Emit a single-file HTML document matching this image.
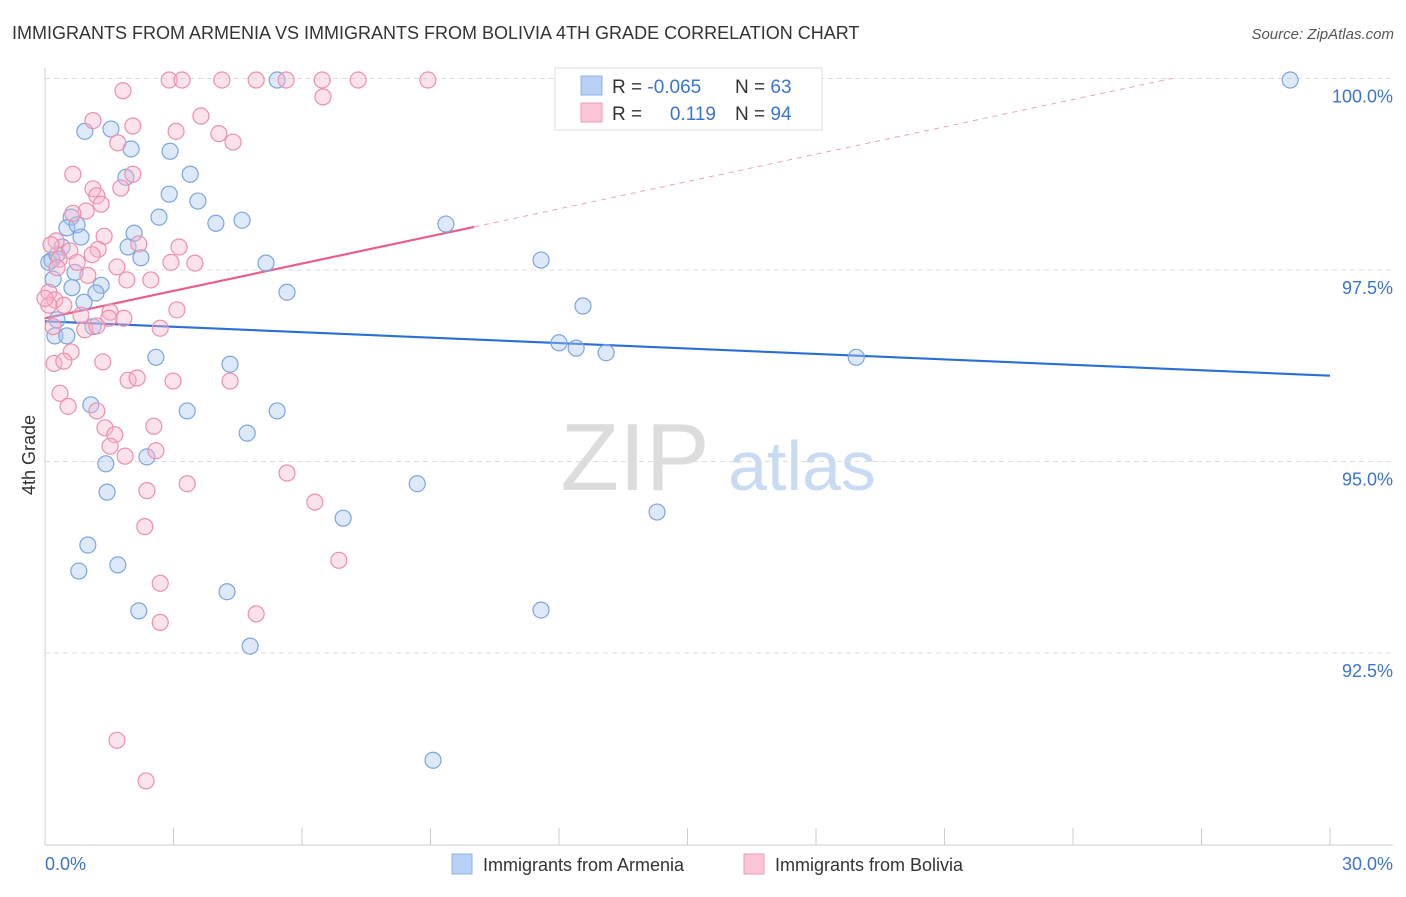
<!DOCTYPE html>
<html><head><meta charset="utf-8"><style>
body{margin:0;background:#fff;font-family:"Liberation Sans",sans-serif;}
svg text{font-family:"Liberation Sans",sans-serif;}
</style></head><body>
<svg id="chart" width="1406" height="892" xmlns="http://www.w3.org/2000/svg">
<text x="12" y="39" font-size="18" fill="#333">IMMIGRANTS FROM ARMENIA VS IMMIGRANTS FROM BOLIVIA 4TH GRADE CORRELATION CHART</text>
<text x="1394" y="39" font-size="15" fill="#555" font-style="italic" text-anchor="end">Source: ZipAtlas.com</text>
<text x="35" y="455" font-size="18" fill="#333" text-anchor="middle" transform="rotate(-90 35 455)">4th Grade</text>
<g>
<text x="635" y="490" font-size="96" fill="#dcdcdc" text-anchor="middle" font-family="Liberation Serif, serif">ZIP</text>
<text x="802" y="490" font-size="70" fill="#c9dbf2" text-anchor="middle">atlas</text>
</g>
<g id="grid"></g><g id="axes"></g><g id="lines"></g><g id="pts"></g>
<g>
<rect x="555" y="68" width="267" height="62" fill="#fff" stroke="#ddd"/>
<rect x="581" y="76" width="21" height="19" fill="#b7d0f3" stroke="#8db4e8"/>
<rect x="581" y="103" width="21" height="19" fill="#fbc5d5" stroke="#f09ab5"/>
<text x="612" y="93" font-size="19" fill="#333">R = <tspan fill="#3a74d0">-0.065</tspan></text>
<text x="735" y="93" font-size="19" fill="#333">N = <tspan fill="#3a74d0">63</tspan></text>
<text x="612" y="120" font-size="19" fill="#333">R = </text>
<text x="716" y="120" font-size="19" fill="#3a74d0" text-anchor="end">0.119</text>
<text x="735" y="120" font-size="19" fill="#333">N = <tspan fill="#3a74d0">94</tspan></text>
</g>
<g>
<rect x="452" y="854" width="20" height="20" fill="#b7d0f3" stroke="#8db4e8"/>
<text x="483" y="871" font-size="18" fill="#333">Immigrants from Armenia</text>
<text x="775" y="871" font-size="18" fill="#333">Immigrants from Bolivia</text>
<rect x="744" y="854" width="20" height="20" fill="#fbc5d5" stroke="#f09ab5"/>
</g>
</svg>
<script>
const blueX=[29.07,5.42,0.93,1.54,2.01,2.92,3.39,1.89,2.90,3.57,0.61,2.66,3.99,4.60,9.36,0.51,0.75,0.40,0.84,2.08,1.94,0.16,2.24,5.16,11.58,0.70,0.19,0.63,1.31,1.19,5.65,0.91,12.56,0.28,0.23,0.51,1.12,12.00,12.40,13.10,18.94,2.59,4.32,1.07,3.32,5.42,4.72,2.38,1.42,8.69,1.45,6.96,14.29,1.00,0.79,1.70,4.25,2.19,11.58,4.79,9.06,0.09,0.28];
const blueY=[99.98,99.98,99.31,99.34,99.08,99.05,98.75,98.71,98.49,98.40,98.19,98.19,98.11,98.15,98.10,98.05,98.09,97.80,97.93,97.98,97.80,97.63,97.66,97.59,97.63,97.47,97.38,97.27,97.30,97.20,97.21,97.08,97.03,96.85,96.64,96.64,96.76,96.55,96.48,96.42,96.36,96.36,96.27,95.74,95.66,95.66,95.37,95.06,94.97,94.71,94.60,94.26,94.34,93.91,93.57,93.65,93.30,93.05,93.06,92.59,91.10,97.60,97.70];
const pinkX=[2.90,3.20,4.13,4.93,5.63,6.47,7.31,8.94,1.82,6.49,3.64,1.12,2.05,3.06,4.06,4.39,1.70,0.65,2.05,1.12,1.77,1.21,1.31,0.96,0.65,0.26,1.38,2.19,3.13,0.58,1.24,0.33,0.75,1.68,2.94,3.50,0.28,1.00,2.47,1.91,0.09,0.23,0.44,1.52,1.84,3.08,0.84,1.49,0.93,2.69,1.21,0.19,0.61,1.35,0.21,0.44,1.94,2.15,2.99,4.32,0.35,0.54,1.21,2.54,1.40,1.63,1.52,2.59,1.87,5.65,3.32,2.38,6.30,2.33,6.86,2.69,4.93,2.69,1.68,2.36,0.09,0.00,0.14,1.10];
const pinkY=[99.98,99.98,99.98,99.98,99.98,99.98,99.98,99.98,99.84,99.76,99.51,99.45,99.38,99.31,99.28,99.17,99.16,98.75,98.75,98.56,98.57,98.47,98.36,98.27,98.24,97.88,97.94,97.84,97.80,97.75,97.77,97.64,97.60,97.54,97.60,97.59,97.53,97.43,97.37,97.37,97.21,97.11,97.04,96.95,96.87,96.98,96.91,96.87,96.72,96.74,96.77,96.76,96.43,96.30,96.28,96.31,96.06,96.09,96.05,96.05,95.89,95.72,95.66,95.46,95.44,95.35,95.20,95.14,95.07,94.85,94.71,94.62,94.47,94.15,93.71,93.41,93.01,92.90,91.36,90.83,97.04,97.13,97.83,97.70];
const yTicks=[100,97.5,95,92.5];
const yTickLabels=["100.0%","97.5%","95.0%","92.5%"];
const xTickLabels=["0.0%","30.0%"];
const blueTrend=[96.83,96.12];
const pinkTrend=[96.87,0.119,10.02];
const X0=45,X1=1330,Ytop=78.5,Ybot=844.5;
const sx=v=>X0+v/30*(X1-X0);
const sy=v=>Ytop+(100-v)/10*(Ybot-Ytop);
const NS="http://www.w3.org/2000/svg";
function mk(tag,attrs,parent){const e=document.createElementNS(NS,tag);for(const k in attrs)e.setAttribute(k,attrs[k]);document.getElementById(parent).appendChild(e);return e;}
yTicks.forEach((t,i)=>{
 const g=mk('line',{x1:45,x2:1393,y1:sy(t),y2:sy(t),stroke:'#ddd','stroke-dasharray':'5,4'},'grid');
 
 
 const tx=mk('text',{x:1393,y:sy(t)+24,'font-size':18,fill:'#3a74d0','text-anchor':'end'},'grid');
 tx.textContent=yTickLabels[i];
 
 
});
const ax=mk('line',{x1:45,x2:1393,y1:845,y2:845,stroke:'#ccc'},'axes');


const ay=mk('line',{x1:45,x2:45,y1:68,y2:845,stroke:'#ccc'},'axes');


for(let i=0;i<=10;i++){
 const t=mk('line',{x1:sx(i*3),x2:sx(i*3),y1:828,y2:845,stroke:'#ccc'},'axes');
 
 
}
const xl0=mk('text',{x:45,y:870,'font-size':18,fill:'#3a74d0'},'axes');
xl0.textContent=xTickLabels[0];


const xl1=mk('text',{x:1393,y:870,'font-size':18,fill:'#3a74d0','text-anchor':'end'},'axes');
xl1.textContent=xTickLabels[1];


function circles(xs,ys,fill,stroke,name){
 xs.forEach((x,i)=>{
  const c=mk('circle',{cx:sx(x),cy:sy(ys[i]),r:8,fill:fill,'fill-opacity':0.4,stroke:stroke,'stroke-width':1.2},'pts');
  
  
 });
}
circles(blueX,blueY,'#a9c6ee','#7aa6e0','armenia-point');
circles(pinkX,pinkY,'#f7b6ca','#ee8fac','bolivia-point');
const bl=mk('line',{x1:sx(0),y1:sy(blueTrend[0]),x2:sx(30),y2:sy(blueTrend[1]),stroke:'#2a6fd6','stroke-width':2.2},'lines');


const pEnd=(100-pinkTrend[0])/pinkTrend[1];
const pd=mk('line',{x1:sx(pinkTrend[2]),y1:sy(pinkTrend[0]+pinkTrend[1]*pinkTrend[2]),x2:sx(pEnd),y2:sy(100),stroke:'#f0a0b8','stroke-width':1,'stroke-dasharray':'5,5'},'lines');


const pl=mk('line',{x1:sx(0),y1:sy(pinkTrend[0]),x2:sx(pinkTrend[2]),y2:sy(pinkTrend[0]+pinkTrend[1]*pinkTrend[2]),stroke:'#e8608a','stroke-width':2.2},'lines');


</script>
</body></html>
